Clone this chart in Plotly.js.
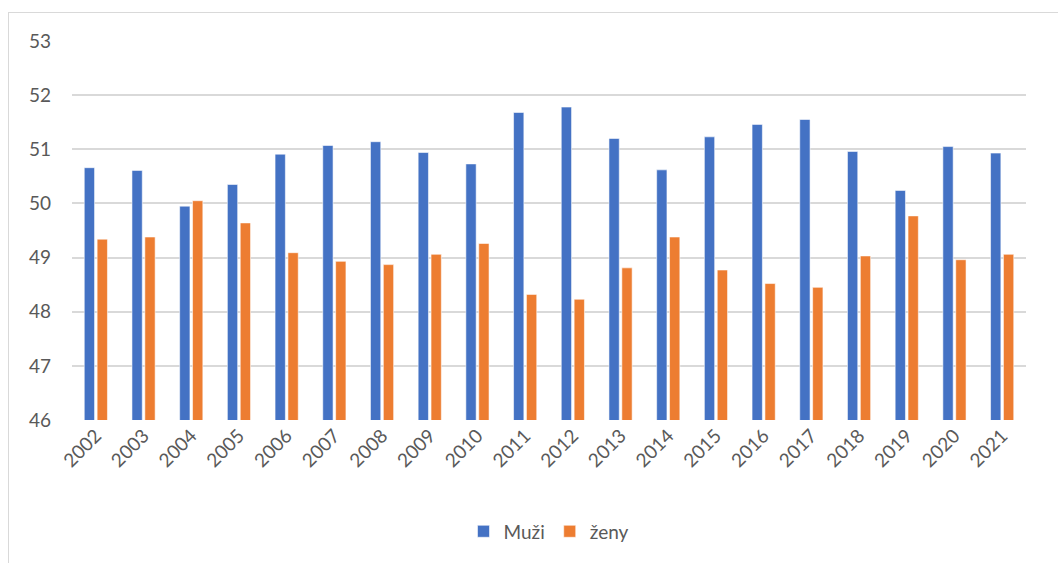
<!DOCTYPE html>
<html>
<head>
<meta charset="utf-8">
<script src="https://cdn.plot.ly/plotly-3.0.1.min.js"></script>
<style>
html,body{margin:0;padding:0;background:#fff;}
#chart{position:absolute;left:0;top:0;width:1058px;height:563px;}
#frame{position:absolute;left:8px;top:12px;width:1060px;height:560px;border-left:1px solid #d9d9d9;border-top:1px solid #d9d9d9;pointer-events:none;}
</style>
</head>
<body>
<div id="chart"></div>
<div id="frame"></div>
<script>
const years = ["2002","2003","2004","2005","2006","2007","2008","2009","2010","2011","2012","2013","2014","2015","2016","2017","2018","2019","2020","2021"];
const muzi = [50.66,50.61,49.95,50.35,50.91,51.07,51.14,50.94,50.73,51.68,51.78,51.20,50.62,51.23,51.46,51.55,50.96,50.24,51.05,50.93];
const zeny = [49.34,49.38,50.05,49.64,49.09,48.93,48.87,49.06,49.26,48.32,48.23,48.81,49.38,48.77,48.52,48.45,49.03,49.77,48.96,49.06];
const yTicks = [46,47,48,49,50,51,52,53];

const font = {family: "Lato, 'Open Sans', sans-serif", size: 19, color: "#595959"};

const traces = [
  {type: "bar", name: "Muži", x: years, y: muzi,
   marker: {color: "#4472C4", line: {color: "rgba(255,255,255,0.7)", width: 0.8}}},
  {type: "bar", name: "ženy", x: years, y: zeny,
   marker: {color: "#ED7D31", line: {color: "rgba(255,255,255,0.7)", width: 0.8}}}
];

const layout = {
  width: 1058, height: 563,
  margin: {l: 72, r: 32, t: 41, b: 141},
  paper_bgcolor: "rgba(0,0,0,0)", plot_bgcolor: "#fff",
  font: font,
  barmode: "group", bargap: 0.46, bargroupgap: 0.2,
  showlegend: true,
  legend: {orientation: "h", x: 0.5, xanchor: "center", y: -0.294, yanchor: "middle",
           font: font, itemwidth: 30, traceorder: "normal"},
  xaxis: {type: "category", tickangle: -45, showgrid: false, zeroline: false,
          showline: false, ticks: "", tickfont: font},
  yaxis: {range: [46, 53], tickvals: yTicks, showgrid: true, gridcolor: "#d9d9d9",
          gridwidth: 2, zeroline: false, showline: false, ticks: "",
          tickfont: font, ticklabelstandoff: 20}
};

Plotly.newPlot("chart", traces, layout, {displayModeBar: false, staticPlot: true});
</script>
</body>
</html>
